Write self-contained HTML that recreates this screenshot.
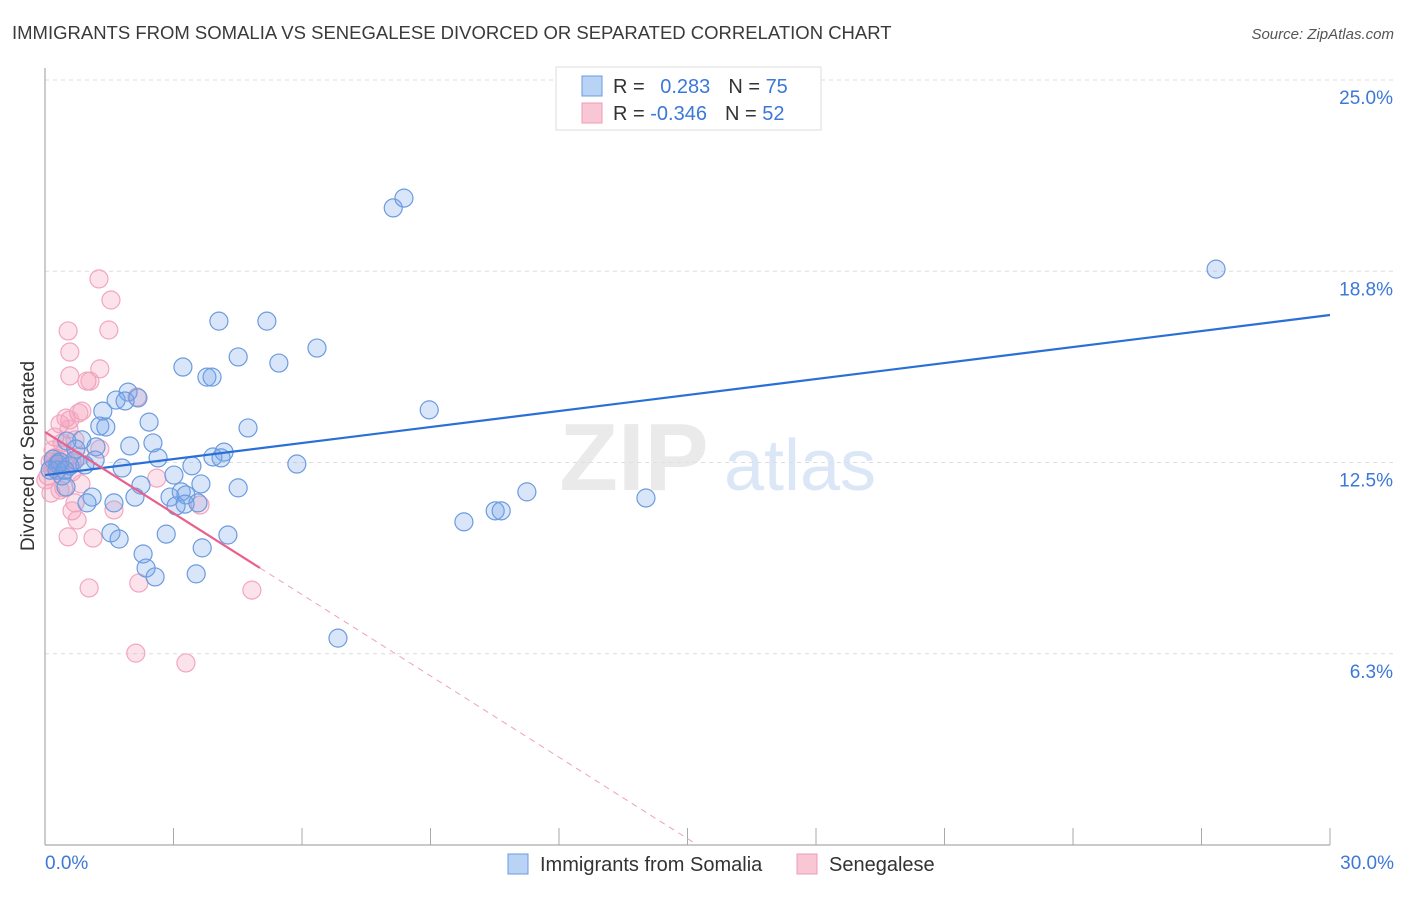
<!DOCTYPE html>
<html><head><meta charset="utf-8"><style>
body{margin:0;background:#fff;font-family:"Liberation Sans",sans-serif;}
svg text{font-family:"Liberation Sans",sans-serif;}
</style></head><body>
<svg id="chart" width="1406" height="892" viewBox="0 0 1406 892" xmlns="http://www.w3.org/2000/svg">
<text x="12" y="39" font-size="18.5" fill="#3a3a3a">IMMIGRANTS FROM SOMALIA VS SENEGALESE DIVORCED OR SEPARATED CORRELATION CHART</text>
<text x="1394" y="39" font-size="15" fill="#555" font-style="italic" text-anchor="end">Source: ZipAtlas.com</text>
<g id="grid"></g>
<g>
<text x="634" y="490" font-size="96" fill="#e2e2e2" font-family="Liberation Serif,serif" text-anchor="middle" font-weight="bold" opacity="0.7">ZIP</text>
<text x="800" y="490" font-size="72" fill="#d3e2f6" text-anchor="middle" opacity="0.8">atlas</text>
</g>
<line x1="45" y1="68" x2="45" y2="845" stroke="#aaa" stroke-width="1.2"/>
<line x1="45" y1="845" x2="1330" y2="845" stroke="#aaa" stroke-width="1.2"/>
<g id="ticks"></g>
<g id="ylabels"></g>
<text x="45" y="869" font-size="19" fill="#3b78d8">0.0%</text>
<text x="1394" y="869" font-size="19" fill="#3b78d8" text-anchor="end">30.0%</text>
<text transform="translate(34,456) rotate(-90)" font-size="19" fill="#333" text-anchor="middle">Divorced or Separated</text>
<g id="pink"></g>
<g id="blue"></g>
<g id="trends"></g>
<g>
<rect x="556" y="67" width="265" height="63" fill="#fff" stroke="#ddd"/>
<rect x="582" y="76" width="20" height="20" fill="#b9d3f5" stroke="#6c9be0"/>
<rect x="582" y="103" width="20" height="20" fill="#f9c6d5" stroke="#f09ab5"/>
<text x="613" y="93" font-size="20" fill="#333">R = <tspan fill="#3b78d8" dx="10">0.283</tspan><tspan dx="18" fill="#333">N = </tspan><tspan fill="#3b78d8">75</tspan></text>
<text x="613" y="120" font-size="20" fill="#333">R = <tspan fill="#3b78d8">-0.346</tspan><tspan dx="18" fill="#333">N = </tspan><tspan fill="#3b78d8">52</tspan></text>
</g>
<g>
<rect x="508" y="854" width="20" height="20" fill="#b9d3f5" stroke="#6c9be0"/>
<text x="540" y="871" font-size="20" fill="#333">Immigrants from Somalia</text>
<rect x="797" y="854" width="20" height="20" fill="#f9c6d5" stroke="#f09ab5"/>
<text x="829" y="871" font-size="20" fill="#333">Senegalese</text>
</g>
</svg>
<script>
const yTicks=[6.25,12.5,18.75,25];
const yTickLabels=["6.3%","12.5%","18.8%","25.0%"];
const xTicks=[0,3,6,9,12,15,18,21,24,27,30];
const blueX=[8.13,8.38,27.34,4.06,5.18,6.35,4.51,5.46,3.22,3.78,3.90,1.94,2.17,1.66,1.87,8.97,1.35,2.43,1.28,1.42,4.74,0.86,1.98,2.52,0.51,1.19,0.72,4.18,3.92,2.64,4.11,5.88,3.43,1.80,0.19,0.30,0.58,0.70,1.17,3.01,0.40,2.24,4.51,3.64,3.18,3.29,11.25,14.03,0.49,1.10,2.10,2.92,0.98,1.61,3.06,3.27,3.57,9.78,10.51,10.65,1.54,2.83,4.27,1.73,3.67,2.29,2.36,2.57,3.53,6.84,0.28,0.12,0.35,0.47,0.93];
const blueY=[20.82,21.14,18.82,17.12,17.12,16.24,15.95,15.75,15.62,15.29,15.29,14.80,14.61,14.54,14.51,14.22,14.18,13.82,13.69,13.66,13.63,13.24,13.04,13.14,13.20,13.01,12.94,12.84,12.68,12.65,12.65,12.45,12.39,12.32,12.61,12.45,12.39,12.58,12.58,12.09,12.06,11.76,11.67,11.80,11.54,11.44,11.54,11.34,11.70,11.37,11.37,11.37,11.18,11.18,11.08,11.14,11.18,10.56,10.92,10.92,10.20,10.16,10.13,10.00,9.71,9.51,9.05,8.76,8.86,6.76,12.25,12.25,12.52,12.25,12.42];
const pinkX=[1.26,1.54,1.49,0.54,0.58,1.28,0.58,0.98,1.05,2.15,0.86,0.79,0.49,0.58,0.35,0.23,0.56,0.40,0.70,1.28,0.82,0.23,0.16,0.30,0.44,0.07,0.63,0.84,0.44,0.14,0.35,0.70,0.63,1.61,3.62,0.75,0.54,1.12,2.61,1.03,2.19,4.83,2.12,3.29,0.23,0.12,0.40,0.28,0.49,0.63,0.19,0.02];
const pinkY=[18.50,17.81,16.83,16.80,16.11,15.56,15.33,15.16,15.16,14.64,14.18,14.12,13.95,13.89,13.76,13.33,13.59,13.14,13.24,12.94,12.71,12.65,12.35,12.52,12.25,12.06,12.19,11.80,11.67,11.50,11.60,11.18,10.92,10.95,11.11,10.62,10.07,10.03,11.99,8.40,8.56,8.33,6.27,5.95,12.42,12.52,12.75,12.25,12.58,12.52,12.91,11.93];
const blueTrend=[12.09,17.32];
const pinkTrend=[13.5,-0.886];
const NS="http://www.w3.org/2000/svg";
const sx=v=>45+v/30*1285, sy=v=>845-v/25*765;
function mk(tag,attrs,parent){const e=document.createElementNS(NS,tag);for(const k in attrs)e.setAttribute(k,attrs[k]);parent.appendChild(e);return e;}
const grid=document.getElementById('grid'),yl=document.getElementById('ylabels');
yTicks.forEach((t,i)=>{
 const l=mk('line',{x1:45,x2:1393,y1:sy(t),y2:sy(t),stroke:'#ddd','stroke-dasharray':'4,4'},grid);
 
 
 const tx=mk('text',{x:1393,y:sy(t)+24,'font-size':19,fill:'#3b78d8','text-anchor':'end'},yl);
 tx.textContent=yTickLabels[i];
 
 
});
const tk=document.getElementById('ticks');
xTicks.forEach(t=>{const l=mk('line',{x1:sx(t),x2:sx(t),y1:828,y2:845,stroke:'#aaa'},tk);
 
 });
function pts(xs,ys,g,fill,stroke,name){xs.forEach((x,i)=>{const c=mk('circle',{cx:sx(x),cy:sy(ys[i]),r:9,fill:fill,stroke:stroke,'stroke-width':1.2},g);
 
 });}
pts(pinkX,pinkY,document.getElementById('pink'),'rgba(244,150,180,0.28)','#f2a6c0','senegalese-point');
pts(blueX,blueY,document.getElementById('blue'),'rgba(120,165,235,0.28)','#6b9be0','somalia-point');
const tr=document.getElementById('trends');
const b=mk('line',{x1:sx(0),y1:sy(blueTrend[0]),x2:sx(30),y2:sy(blueTrend[1]),stroke:'#2a6fd6','stroke-width':2.2},tr);


const pEnd=5.02, pZero=-pinkTrend[0]/pinkTrend[1];
const p=mk('line',{x1:sx(0),y1:sy(pinkTrend[0]),x2:sx(pEnd),y2:sy(pinkTrend[0]+pinkTrend[1]*pEnd),stroke:'#e8608c','stroke-width':2.2},tr);


const pd=mk('line',{x1:sx(pEnd),y1:sy(pinkTrend[0]+pinkTrend[1]*pEnd),x2:sx(pZero),y2:sy(0),stroke:'#f0a0ba','stroke-width':1,'stroke-dasharray':'6,5'},tr);


</script>
</body></html>
